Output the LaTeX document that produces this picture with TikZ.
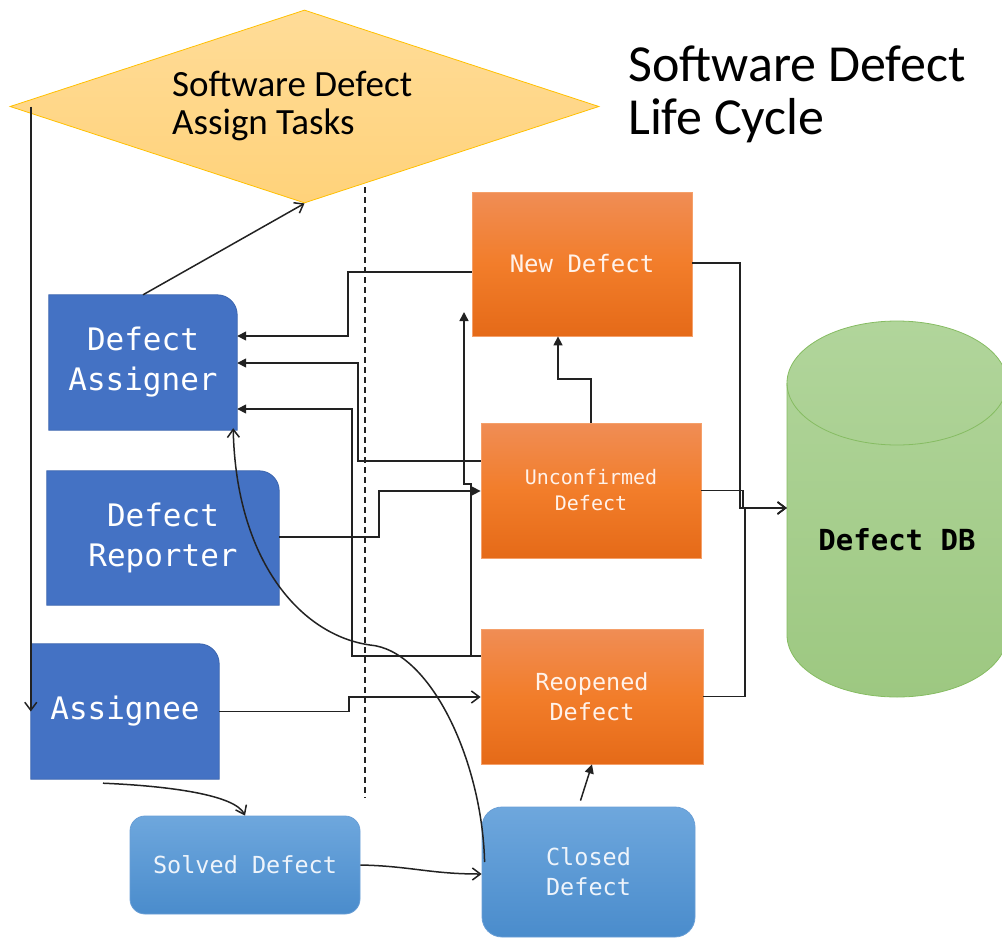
\documentclass[tikz,border=0pt]{standalone}
\usepackage{fontspec}
\setmainfont{Carlito}
\newfontfamily\monof{DejaVu Sans Mono}
\usetikzlibrary{arrows.meta,shapes.geometric,backgrounds}
\definecolor{linec}{HTML}{222222}
\definecolor{dblue}{HTML}{4472C4}
\definecolor{dbord}{HTML}{3A64AE}
\definecolor{or1}{HTML}{F08D55}
\definecolor{or2}{HTML}{F27D2A}
\definecolor{or3}{HTML}{E56A18}
\definecolor{orb}{HTML}{F5A06A}
\definecolor{otext}{HTML}{FFF2EA}
\definecolor{lb1}{HTML}{6EA7DD}
\definecolor{lb2}{HTML}{4A8CCC}
\definecolor{lbb}{HTML}{6A9FD6}
\definecolor{lbtext}{HTML}{EEF4FB}
\definecolor{dia1}{HTML}{FFDC98}
\definecolor{dia2}{HTML}{FFD27A}
\definecolor{diab}{HTML}{FFC000}
\definecolor{gr1}{HTML}{B1D59B}
\definecolor{gr2}{HTML}{9DC881}
\definecolor{grb}{HTML}{86BC62}
\newcommand\trshape[1]{\path[fill=dblue, draw=dbord, line width=.8pt] (#1.south west) -- (#1.north west) -- ([xshift=-20pt]#1.north east) arc[start angle=90,end angle=0,radius=20pt] -- (#1.south east) -- cycle;}
\begin{document}
\begin{tikzpicture}[x=1pt,y=-1pt,
  line/.style={draw=linec, line width=1.5pt},
  fa/.style={line, -{Triangle[length=9pt,width=9pt]}},
  oa/.style={line, -{Straight Barb[length=8pt,width=12pt]}},
  obox/.style={rectangle, inner sep=0pt, top color=or1, bottom color=or3, middle color=or2, draw=orb, line width=.8pt, text=otext, align=center},
  lbbox/.style={rectangle, rounded corners=#1, inner sep=0pt, top color=lb1, bottom color=lb2, draw=lbb, line width=.8pt, text=lbtext, align=center, font={\monof\fontsize{23.5}{30}\selectfont}},
  dbox/.style={rectangle, inner sep=0pt, text=white, align=center, font={\monof\fontsize{31}{40}\selectfont}},
]
\useasboundingbox (0,0) rectangle (1002,938);
\clip (0,0) rectangle (1002,938);

% diamond
\node[diamond, minimum width=589pt, minimum height=193pt, inner sep=0pt, top color=dia1, bottom color=dia2, draw=diab, line width=.8pt] (tasks) at (304.5,106.5) {};
\node[anchor=north west, inner sep=0pt, align=left, font={\fontsize{37}{38}\selectfont}] (tasklbl) at (172,71) {Software Defect\\Assign Tasks};

% title
\node[anchor=north west, inner sep=0pt, align=left, font={\fontsize{52}{53}\selectfont}] (title) at (628,46) {Software Defect\\Life Cycle};

% separator
\coordinate (septop) at (365,187);
\coordinate (sepbot) at (365,798);
\draw[linec, line width=1.3pt, dash pattern=on 6pt off 4pt] (septop) -- (sepbot);

% cylinder
\path[top color=gr1, bottom color=gr2, draw=grb, line width=.8pt] (787,383) -- (787,635) arc[start angle=180,end angle=360,x radius=110pt,y radius=62pt] -- (1007,383) arc[start angle=0,end angle=180,x radius=110pt,y radius=62pt] -- cycle;
\draw[grb, line width=.8pt] (787,383) arc[start angle=180,end angle=360,x radius=110pt,y radius=62pt];
\node[rectangle, inner sep=0pt, minimum width=220pt, font={\monof\bfseries\fontsize{29}{35}\selectfont}] (db) at (897,540) {Defect DB};

% blue boxes
\node[dbox, minimum width=188pt, minimum height=135pt] (assigner) at (143,362.5) {Defect\\Assigner};
\node[dbox, minimum width=232pt, minimum height=134pt] (reporter) at (163,538) {Defect\\Reporter};
\node[dbox, minimum width=188pt, minimum height=135pt] (assignee) at (125,711.5) {Assignee};
\begin{scope}[on background layer]
\trshape{assigner}
\trshape{reporter}
\trshape{assignee}
\end{scope}

% orange boxes
\node[obox, minimum width=220pt, minimum height=144pt, font={\monof\fontsize{24}{30}\selectfont}] (newd) at (582,264) {New Defect};
\node[obox, minimum width=220pt, minimum height=135pt, font={\monof\fontsize{20}{26}\selectfont}] (unconf) at (591,490.5) {Unconfirmed\\Defect};
\node[obox, minimum width=222pt, minimum height=135pt, font={\monof\fontsize{23.5}{30}\selectfont}] (reop) at (592,696.5) {Reopened\\Defect};

% light blue boxes
\node[lbbox=15pt, minimum width=230pt, minimum height=98pt] (solved) at (245,865) {Solved Defect};
\node[lbbox=20pt, minimum width=213pt, minimum height=130pt] (closed) at (588.5,872) {Closed\\Defect};

% connectors
\draw[oa] (assigner.north) -- (tasks.south);
\draw[oa] (assignee.west |- tasks.west) -- (assignee.west);
\draw[fa] (newd.west |- 0,272) -| (348,336) -- (assigner.east |- 0,336);
\draw[fa] (unconf.west |- 0,461) -| (358,363) -- (assigner.east |- 0,363);
\draw[fa] (reop.west |- 0,656) -| (352,409) -- (assigner.east |- 0,409);
\draw[fa] (reporter.east |- 0,537) -| (379,491) -- (unconf.west |- 0,491);
\coordinate (newin) at (464,312);
\draw[fa] (reop.west |- 0,656) -| (471,484) -| (newin);
\draw[fa] (unconf.north) |- (558,379) -- (newd.south -| 558,0);
\draw[oa] (newd.east |- 0,263) -| (740,508) -- (db.west |- 0,508);
\draw[oa] (unconf.east) -| (743,508) -- (db.west |- 0,508);
\draw[oa] (reop.east) -| (745,508) -- (db.west |- 0,508);
\draw[oa] (assignee.east) -| (349,697) -- (reop.west |- 0,697);
\draw[oa] ([xshift=3pt,yshift=10pt]closed.west) .. controls (482,760) and (430,650) .. (370,645) .. controls (300,635) and (236,560) .. ([xshift=-4pt,yshift=2pt]assigner.south east);
\draw[oa] ([xshift=-22pt,yshift=-4pt]assignee.south) .. controls (170,786) and (235,795) .. (solved.north);
\draw[oa] (solved.east) .. controls (410,866) and (430,874) .. (closed.west |- 0,874);
\draw[fa] ([xshift=-8pt,yshift=6pt]closed.north) -- (reop.south);
\end{tikzpicture}
\end{document}
